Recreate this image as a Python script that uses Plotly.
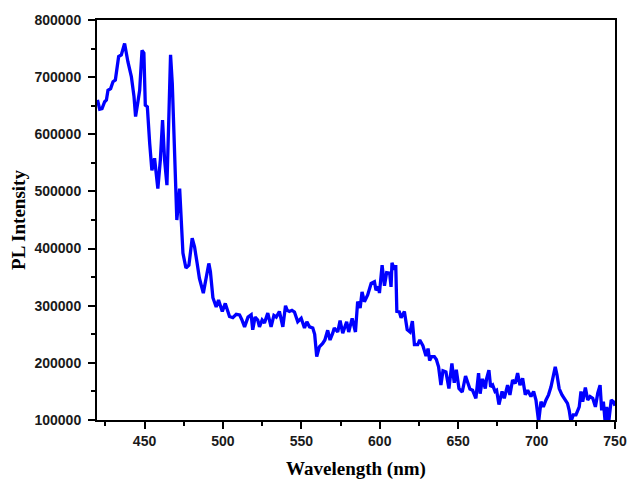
import plotly.graph_objects as go

wavelength = [420.0, 421.4, 422.9, 424.6, 425.7, 426.7, 428.4, 429.9, 431.4, 432.7, 433.5, 435.2,
              437.3, 439.4, 441.6, 443.3, 444.3, 445.8, 446.9, 448.4, 449.6, 450.5, 451.8, 453.3,
              454.7, 456.4, 457.5, 458.5, 460.1, 461.5, 462.8, 464.3, 465.4, 466.6, 467.7, 469.2,
              470.6, 472.4, 474.5, 476.4, 478.3, 480.4, 481.9, 483.5, 485.0, 487.5, 489.5, 491.0,
              492.0, 493.6, 495.7, 497.2, 499.6, 501.5, 504.2, 506.3, 508.5, 510.6, 512.0, 513.8,
              516.0, 518.0, 519.0, 520.5, 522.2, 523.3, 525.0, 526.5, 528.6, 530.7, 532.5, 534.0,
              536.0, 538.2, 539.9, 541.0, 542.4, 544.0, 545.6, 547.7, 549.9, 552.0, 553.5, 555.2,
              557.3, 558.5, 559.8, 561.5, 563.6, 565.0, 566.8, 568.3, 570.0, 571.0, 573.2, 574.7,
              576.4, 578.9, 580.2, 582.4, 584.5, 585.9, 587.5, 588.7, 590.2, 592.3, 594.5, 596.6,
              597.6, 599.3, 599.8, 601.5, 603.0, 604.4, 606.3, 607.2, 607.8, 609.3, 610.2, 610.9,
              612.5, 613.6, 615.7, 617.5, 619.3, 620.8, 622.1, 624.2, 625.5, 627.5, 629.5, 630.8,
              631.8, 633.1, 634.8, 636.1, 637.5, 639.0, 640.3, 642.2, 644.1, 646.0, 647.5, 648.8,
              650.5, 652.6, 654.7, 656.2, 657.5, 659.2, 661.3, 663.0, 664.0, 665.5, 667.3, 668.1,
              669.6, 670.7, 672.0, 673.5, 674.5, 676.0, 678.0, 679.4, 681.5, 683.0, 684.7, 686.4,
              687.9, 689.4, 691.1, 692.8, 694.3, 696.4, 698.1, 699.6, 701.3, 702.8, 704.3, 706.0,
              707.6, 709.2, 710.6, 711.9, 713.0, 714.4, 716.2, 717.8, 719.7, 720.8, 721.9, 723.4,
              725.1, 727.2, 728.3, 729.4, 731.1, 732.6, 734.1, 735.8, 737.5, 739.0, 740.5, 741.5,
              742.6, 743.7, 744.7, 746.0, 747.6, 749.0, 750.0]

pl_intensity = [660000, 644000, 645000, 657000, 660000, 677000, 680000, 692000, 695000, 727000, 736000, 739000,
                759000, 727000, 701000, 666000, 631000, 657000, 677000, 747000, 742000, 651000, 648000, 584000,
                537000, 558000, 532000, 505000, 555000, 625000, 555000, 511000, 619000, 739000, 689000, 561000,
                450000, 505000, 392000, 366000, 371000, 418000, 403000, 375000, 348000, 322000, 350000, 374000,
                360000, 314000, 298000, 310000, 290000, 304000, 281000, 279000, 285000, 284000, 276000, 263000,
                280000, 284000, 258000, 280000, 275000, 263000, 275000, 270000, 287000, 263000, 283000, 280000,
                290000, 263000, 300000, 292000, 290000, 292000, 289000, 272000, 278000, 261000, 272000, 263000,
                261000, 250000, 211000, 228000, 234000, 240000, 257000, 240000, 252000, 261000, 254000, 274000,
                252000, 272000, 254000, 278000, 254000, 307000, 296000, 324000, 307000, 319000, 339000, 342000,
                327000, 333000, 322000, 371000, 335000, 358000, 357000, 333000, 375000, 363000, 371000, 290000,
                289000, 279000, 290000, 258000, 254000, 273000, 232000, 232000, 240000, 230000, 212000, 225000,
                204000, 211000, 211000, 206000, 193000, 161000, 186000, 184000, 155000, 199000, 165000, 188000,
                155000, 149000, 177000, 162000, 154000, 152000, 138000, 182000, 146000, 172000, 155000, 172000,
                187000, 158000, 161000, 150000, 152000, 127000, 150000, 138000, 161000, 144000, 170000, 164000,
                182000, 161000, 173000, 144000, 152000, 141000, 150000, 135000, 97000, 132000, 123000, 135000,
                144000, 158000, 176000, 193000, 179000, 155000, 144000, 138000, 129000, 117000, 97000, 109000,
                109000, 123000, 150000, 132000, 157000, 135000, 141000, 138000, 123000, 147000, 161000, 117000,
                132000, 97000, 123000, 97000, 135000, 132000, 125000]

x_ticks = [450, 500, 550, 600, 650, 700, 750]
y_ticks = [100000, 200000, 300000, 400000, 500000, 600000, 700000, 800000]

fig = go.Figure()
fig.add_trace(go.Scatter(
    x=wavelength, y=pl_intensity, mode="lines",
    line=dict(color="#0000FF", width=3.3),
    showlegend=False,
))

tick_font = dict(family="Arial, Liberation Sans, sans-serif", size=14, color="#1a1a1a", weight="bold")
title_font = dict(family="Times New Roman, Liberation Serif, serif", size=19, color="black", weight="bold")

fig.update_layout(
    width=629, height=480,
    margin=dict(l=97, r=14, t=20, b=60),
    paper_bgcolor="white", plot_bgcolor="white",
    xaxis=dict(
        range=[419.7, 750], tickvals=x_ticks, ticktext=[str(v) for v in x_ticks],
        ticks="outside", ticklen=7, tickwidth=2, tickcolor="black",
        minor=dict(tickvals=[425, 475, 525, 575, 625, 675, 725], ticks="outside", ticklen=4, tickwidth=2, tickcolor="black"),
        showline=True, linecolor="black", linewidth=2, mirror=True,
        showgrid=False, zeroline=False, tickfont=tick_font, automargin=False,
        title=dict(text="Wavelength (nm)", font=title_font, standoff=14),
    ),
    yaxis=dict(
        range=[100000, 800000], tickvals=y_ticks, ticktext=[str(v) for v in y_ticks],
        ticks="outside", ticklen=7, tickwidth=2, tickcolor="black",
        minor=dict(tickvals=[150000, 250000, 350000, 450000, 550000, 650000, 750000], ticks="outside", ticklen=4, tickwidth=2, tickcolor="black"),
        showline=True, linecolor="black", linewidth=2, mirror=True,
        showgrid=False, zeroline=False, tickfont=tick_font, ticklabelstandoff=4, automargin=False,
        title=dict(text="PL Intensity", font=title_font, standoff=4),
    ),
)

fig.write_html(
    "out.html",
    config={"displayModeBar": False},
    post_script="document.body.style.margin='0';document.body.style.overflow='hidden';",
)
